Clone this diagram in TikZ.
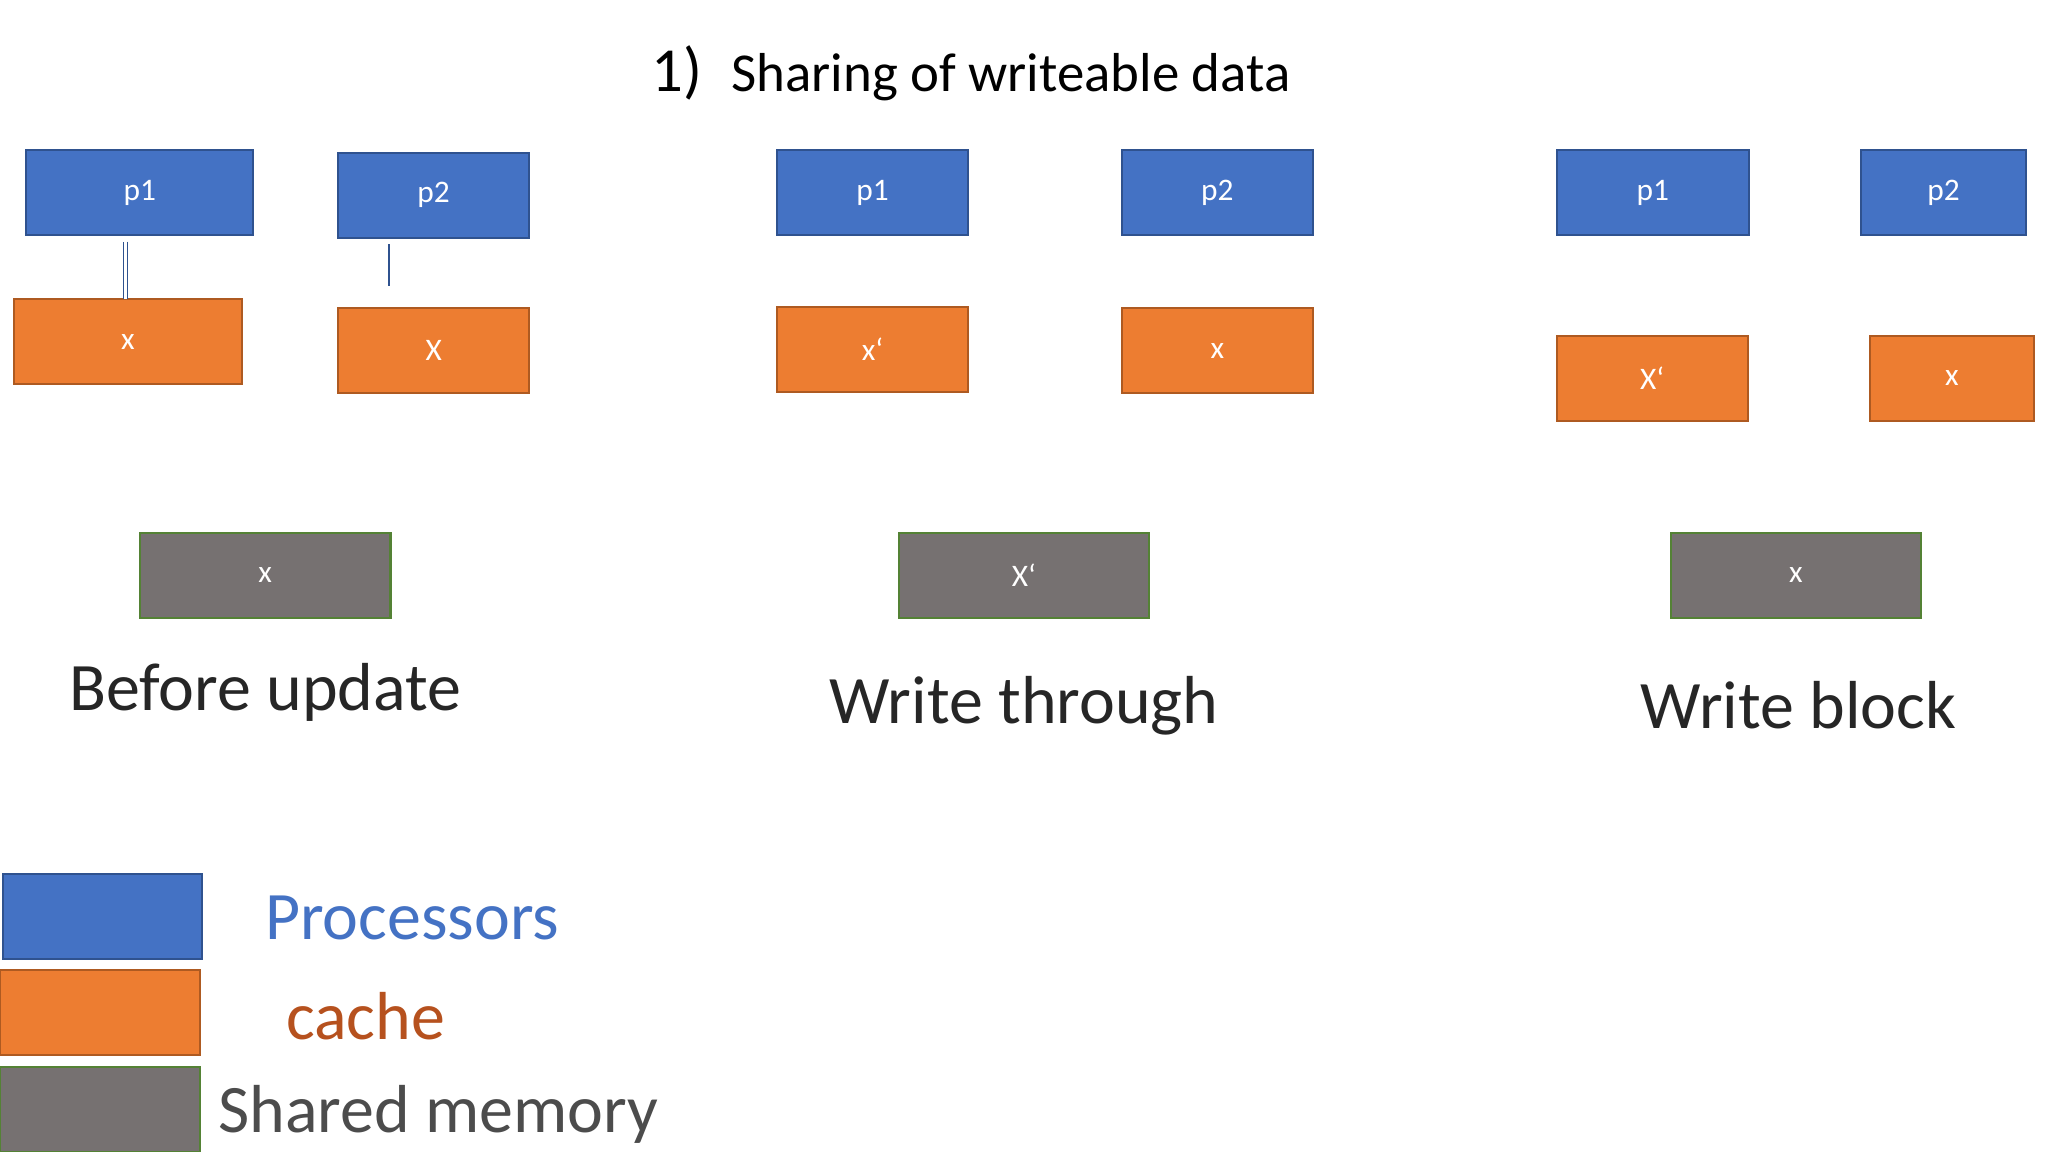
\documentclass[tikz,border=0pt]{standalone}
\usepackage{fontspec}
\setmainfont{Carlito}
\begin{document}
\begin{tikzpicture}[x=0.5pt,y=-0.5pt,
 bx/.style={draw,line width=0.8pt,inner sep=0pt,text=white,font=\fontsize{12}{14}\selectfont,minimum height=32.5pt},
 proc/.style={bx,fill=procblue,draw=procedge},
 cach/.style={bx,fill=cacheor,draw=cacheedge},
 mem/.style={bx,fill=memgray,draw=memedge},
 captxt/.style={font=\fontsize{26}{30}\selectfont,text=black!85}]
\definecolor{procblue}{HTML}{4472C4}\definecolor{procedge}{HTML}{2F528F}
\definecolor{cacheor}{HTML}{ED7D31}\definecolor{cacheedge}{HTML}{AE5A21}
\definecolor{memgray}{HTML}{767171}\definecolor{memedge}{HTML}{548235}
\useasboundingbox (0,0) rectangle (1568,882);
\fill[white] (0,0) rectangle (1568,882);
\node[font=\fontsize{24}{28}\selectfont,anchor=base east] (t1) at (545,70) {1)};
\node[font=\fontsize{21}{25}\selectfont,anchor=base west] (t2) at (553,70) {Sharing of writeable data};
% before
\node[proc,minimum width=87pt] (bp1) at (107,147.5) {p1};
\node[proc,minimum width=73pt] (bp2) at (332,149.5) {p2};
\node[cach,minimum width=87pt] (bc1) at (98,261.5) {x};
\node[cach,minimum width=73pt] (bc2) at (332,268.5) {X};
\node[mem,minimum width=96pt] (bm) at (203,440.5) {x};
\coordinate (d1) at (96,185); \coordinate (d2) at (96,229);
\draw[procedge,line width=0.6pt,double=white,double distance=1pt] (d1) -- (d2);
\coordinate (s1) at (298,187); \coordinate (s2) at (298,219);
\draw[procedge,line width=0.6pt] (s1) -- (s2);
\node[captxt] (l1) at (203,530) {Before update};
% write through
\node[proc,minimum width=73pt] (wp1) at (668,147.5) {p1};
\node[proc,minimum width=73pt] (wp2) at (932,147.5) {p2};
\node[cach,minimum width=73pt] (wc1) at (668,267.5) {x`};
\node[cach,minimum width=73pt] (wc2) at (932,268.5) {x};
\node[mem,minimum width=96pt] (wm) at (784,440.5) {X`};
\node[captxt] (l2) at (784,540) {Write through};
% write block
\node[proc,minimum width=73.5pt] (kp1) at (1265.5,147.5) {p1};
\node[proc,minimum width=63pt] (kp2) at (1488,147.5) {p2};
\node[cach,minimum width=73pt] (kc1) at (1265,289.5) {X`};
\node[cach,minimum width=62.5pt] (kc2) at (1494.5,289.5) {x};
\node[mem,minimum width=96pt] (km) at (1375,440.5) {x};
\node[captxt] (l3) at (1377,540) {Write block};
% legend
\node[proc,minimum width=76.5pt] (g1) at (78.5,701.5) {};
\node[cach,minimum width=76.5pt] (g2) at (76.5,775) {};
\node[mem,minimum width=76.5pt] (g3) at (76.5,849.5) {};
\node[captxt,anchor=west,text=procblue] (n1) at (196,703) {Processors};
\node[captxt,anchor=west,text=cacheedge!90!red] (n2) at (212,778) {cache};
\node[captxt,anchor=west,text=black!70] (n3) at (160,853) {Shared memory};
\end{tikzpicture}
\end{document}
